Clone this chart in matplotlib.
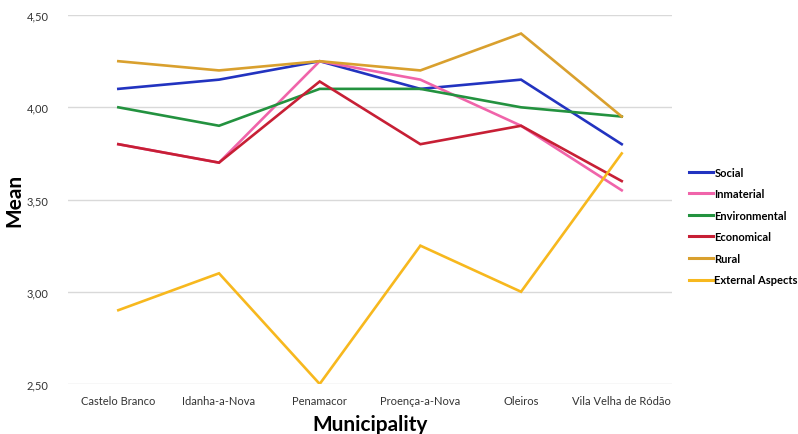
import matplotlib
matplotlib.use("Agg")
import matplotlib.pyplot as plt
from matplotlib.ticker import FuncFormatter

# municipalities and mean scores per dimension
municipalities = ["Castelo Branco", "Idanha-a-Nova", "Penamacor",
                  "Proença-a-Nova", "Oleiros", "Vila Velha de Ródão"]
social = [4.10, 4.15, 4.25, 4.10, 4.15, 3.80]
inmaterial = [3.80, 3.70, 4.25, 4.15, 3.90, 3.55]
environmental = [4.00, 3.90, 4.10, 4.10, 4.00, 3.95]
economical = [3.80, 3.70, 4.14, 3.80, 3.90, 3.60]
rural = [4.25, 4.20, 4.25, 4.20, 4.40, 3.95]
external = [2.90, 3.10, 2.50, 3.25, 3.00, 3.75]

series = [("Social", social, "#2233c0"),
          ("Inmaterial", inmaterial, "#f064aa"),
          ("Environmental", environmental, "#23923f"),
          ("Economical", economical, "#c71f35"),
          ("Rural", rural, "#d9a02e"),
          ("External Aspects", external, "#f7b81e")]

plt.rcParams['font.family'] = ['Lato', 'DejaVu Sans']

fig = plt.figure(figsize=(7.98, 4.35), dpi=100)
ax = fig.add_axes([0.0852, 0.115, 0.757, 0.848])

x = list(range(len(municipalities)))
for name, vals, col in series:
    ax.plot(x, vals, color=col, lw=1.9, label=name, solid_joinstyle='miter')

ax.set_xlim(-0.5, len(municipalities) - 0.5)
ax.set_ylim(2.5, 4.5)
ax.set_yticks([2.5, 3.0, 3.5, 4.0, 4.5])
ax.yaxis.set_major_formatter(FuncFormatter(lambda v, p: f"{v:.2f}".replace(".", ",")))
ax.set_xticks(x)
ax.set_xticklabels(municipalities)
ax.tick_params(length=0, labelsize=8, colors="#333333", pad=8)
ax.tick_params(axis='y', pad=14)
ax.grid(axis='y', color="#d9d9d9", lw=1)
ax.set_axisbelow(True)
for s in ax.spines.values():
    s.set_visible(False)

ax.set_ylabel("Mean", fontsize=15, fontweight='bold')
ax.yaxis.set_label_coords(-0.073, 0.5)
ax.set_xlabel("Municipality", fontsize=15, fontweight='bold', labelpad=6)

leg = ax.legend(loc='center left', bbox_to_anchor=(1.012, 0.428), frameon=False,
                handlelength=2.1, handletextpad=0.15, labelspacing=0.95,
                prop={'size': 8, 'weight': 'bold'})
for line in leg.get_lines():
    line.set_linewidth(2.2)

fig.savefig("out.png", dpi=100)
